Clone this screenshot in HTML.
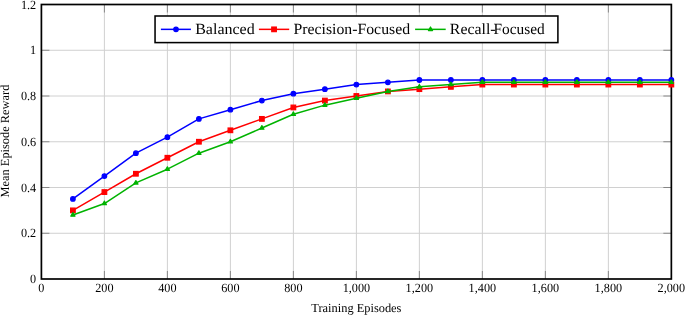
<!DOCTYPE html>
<html><head><meta charset="utf-8"><style>
html,body{margin:0;padding:0;background:#fff;}
svg{display:block;}
text{font-family:"Liberation Serif",serif;fill:#000;text-rendering:geometricPrecision;}
.txt{filter:grayscale(1);}
</style></head><body>
<svg width="685" height="315" viewBox="0 0 685 315">
<rect width="685" height="315" fill="#fff"/>
<line x1="104.40" y1="4.50" x2="104.40" y2="279.00" stroke="#d0d0d0" stroke-width="1.0"/>
<line x1="167.39" y1="4.50" x2="167.39" y2="279.00" stroke="#d0d0d0" stroke-width="1.0"/>
<line x1="230.39" y1="4.50" x2="230.39" y2="279.00" stroke="#d0d0d0" stroke-width="1.0"/>
<line x1="293.38" y1="4.50" x2="293.38" y2="279.00" stroke="#d0d0d0" stroke-width="1.0"/>
<line x1="356.38" y1="4.50" x2="356.38" y2="279.00" stroke="#d0d0d0" stroke-width="1.0"/>
<line x1="419.37" y1="4.50" x2="419.37" y2="279.00" stroke="#d0d0d0" stroke-width="1.0"/>
<line x1="482.37" y1="4.50" x2="482.37" y2="279.00" stroke="#d0d0d0" stroke-width="1.0"/>
<line x1="545.36" y1="4.50" x2="545.36" y2="279.00" stroke="#d0d0d0" stroke-width="1.0"/>
<line x1="608.36" y1="4.50" x2="608.36" y2="279.00" stroke="#d0d0d0" stroke-width="1.0"/>
<line x1="41.40" y1="233.25" x2="671.35" y2="233.25" stroke="#d0d0d0" stroke-width="1.0"/>
<line x1="41.40" y1="187.50" x2="671.35" y2="187.50" stroke="#d0d0d0" stroke-width="1.0"/>
<line x1="41.40" y1="141.75" x2="671.35" y2="141.75" stroke="#d0d0d0" stroke-width="1.0"/>
<line x1="41.40" y1="96.00" x2="671.35" y2="96.00" stroke="#d0d0d0" stroke-width="1.0"/>
<line x1="41.40" y1="50.25" x2="671.35" y2="50.25" stroke="#d0d0d0" stroke-width="1.0"/>
<line x1="104.40" y1="279.00" x2="104.40" y2="271.00" stroke="#666" stroke-width="0.7"/>
<line x1="104.40" y1="4.50" x2="104.40" y2="12.50" stroke="#666" stroke-width="0.7"/>
<line x1="167.39" y1="279.00" x2="167.39" y2="271.00" stroke="#666" stroke-width="0.7"/>
<line x1="167.39" y1="4.50" x2="167.39" y2="12.50" stroke="#666" stroke-width="0.7"/>
<line x1="230.39" y1="279.00" x2="230.39" y2="271.00" stroke="#666" stroke-width="0.7"/>
<line x1="230.39" y1="4.50" x2="230.39" y2="12.50" stroke="#666" stroke-width="0.7"/>
<line x1="293.38" y1="279.00" x2="293.38" y2="271.00" stroke="#666" stroke-width="0.7"/>
<line x1="293.38" y1="4.50" x2="293.38" y2="12.50" stroke="#666" stroke-width="0.7"/>
<line x1="356.38" y1="279.00" x2="356.38" y2="271.00" stroke="#666" stroke-width="0.7"/>
<line x1="356.38" y1="4.50" x2="356.38" y2="12.50" stroke="#666" stroke-width="0.7"/>
<line x1="419.37" y1="279.00" x2="419.37" y2="271.00" stroke="#666" stroke-width="0.7"/>
<line x1="419.37" y1="4.50" x2="419.37" y2="12.50" stroke="#666" stroke-width="0.7"/>
<line x1="482.37" y1="279.00" x2="482.37" y2="271.00" stroke="#666" stroke-width="0.7"/>
<line x1="482.37" y1="4.50" x2="482.37" y2="12.50" stroke="#666" stroke-width="0.7"/>
<line x1="545.36" y1="279.00" x2="545.36" y2="271.00" stroke="#666" stroke-width="0.7"/>
<line x1="545.36" y1="4.50" x2="545.36" y2="12.50" stroke="#666" stroke-width="0.7"/>
<line x1="608.36" y1="279.00" x2="608.36" y2="271.00" stroke="#666" stroke-width="0.7"/>
<line x1="608.36" y1="4.50" x2="608.36" y2="12.50" stroke="#666" stroke-width="0.7"/>
<line x1="41.40" y1="233.25" x2="49.40" y2="233.25" stroke="#666" stroke-width="0.7"/>
<line x1="671.35" y1="233.25" x2="663.35" y2="233.25" stroke="#666" stroke-width="0.7"/>
<line x1="41.40" y1="187.50" x2="49.40" y2="187.50" stroke="#666" stroke-width="0.7"/>
<line x1="671.35" y1="187.50" x2="663.35" y2="187.50" stroke="#666" stroke-width="0.7"/>
<line x1="41.40" y1="141.75" x2="49.40" y2="141.75" stroke="#666" stroke-width="0.7"/>
<line x1="671.35" y1="141.75" x2="663.35" y2="141.75" stroke="#666" stroke-width="0.7"/>
<line x1="41.40" y1="96.00" x2="49.40" y2="96.00" stroke="#666" stroke-width="0.7"/>
<line x1="671.35" y1="96.00" x2="663.35" y2="96.00" stroke="#666" stroke-width="0.7"/>
<line x1="41.40" y1="50.25" x2="49.40" y2="50.25" stroke="#666" stroke-width="0.7"/>
<line x1="671.35" y1="50.25" x2="663.35" y2="50.25" stroke="#666" stroke-width="0.7"/>
<rect x="41.40" y="4.50" width="629.95" height="274.50" fill="none" stroke="#000" stroke-width="1.7"/>
<polyline points="72.90,198.94 104.40,176.06 135.89,153.19 167.39,137.17 198.89,118.88 230.39,109.72 261.88,100.57 293.38,93.71 324.88,89.14 356.38,84.56 387.87,82.28 419.37,79.99 450.87,79.99 482.37,79.99 513.86,79.99 545.36,79.99 576.86,79.99 608.36,79.99 639.85,79.99 671.35,79.99" fill="none" stroke="#0000ff" stroke-width="1.5" stroke-linejoin="round"/>
<circle cx="72.90" cy="198.94" r="2.3" fill="#0000ff" stroke="#0000ff" stroke-width="1.20"/>
<circle cx="104.40" cy="176.06" r="2.3" fill="#0000ff" stroke="#0000ff" stroke-width="1.20"/>
<circle cx="135.89" cy="153.19" r="2.3" fill="#0000ff" stroke="#0000ff" stroke-width="1.20"/>
<circle cx="167.39" cy="137.17" r="2.3" fill="#0000ff" stroke="#0000ff" stroke-width="1.20"/>
<circle cx="198.89" cy="118.88" r="2.3" fill="#0000ff" stroke="#0000ff" stroke-width="1.20"/>
<circle cx="230.39" cy="109.72" r="2.3" fill="#0000ff" stroke="#0000ff" stroke-width="1.20"/>
<circle cx="261.88" cy="100.57" r="2.3" fill="#0000ff" stroke="#0000ff" stroke-width="1.20"/>
<circle cx="293.38" cy="93.71" r="2.3" fill="#0000ff" stroke="#0000ff" stroke-width="1.20"/>
<circle cx="324.88" cy="89.14" r="2.3" fill="#0000ff" stroke="#0000ff" stroke-width="1.20"/>
<circle cx="356.38" cy="84.56" r="2.3" fill="#0000ff" stroke="#0000ff" stroke-width="1.20"/>
<circle cx="387.87" cy="82.28" r="2.3" fill="#0000ff" stroke="#0000ff" stroke-width="1.20"/>
<circle cx="419.37" cy="79.99" r="2.3" fill="#0000ff" stroke="#0000ff" stroke-width="1.20"/>
<circle cx="450.87" cy="79.99" r="2.3" fill="#0000ff" stroke="#0000ff" stroke-width="1.20"/>
<circle cx="482.37" cy="79.99" r="2.3" fill="#0000ff" stroke="#0000ff" stroke-width="1.20"/>
<circle cx="513.86" cy="79.99" r="2.3" fill="#0000ff" stroke="#0000ff" stroke-width="1.20"/>
<circle cx="545.36" cy="79.99" r="2.3" fill="#0000ff" stroke="#0000ff" stroke-width="1.20"/>
<circle cx="576.86" cy="79.99" r="2.3" fill="#0000ff" stroke="#0000ff" stroke-width="1.20"/>
<circle cx="608.36" cy="79.99" r="2.3" fill="#0000ff" stroke="#0000ff" stroke-width="1.20"/>
<circle cx="639.85" cy="79.99" r="2.3" fill="#0000ff" stroke="#0000ff" stroke-width="1.20"/>
<circle cx="671.35" cy="79.99" r="2.3" fill="#0000ff" stroke="#0000ff" stroke-width="1.20"/>
<polyline points="72.90,210.38 104.40,192.07 135.89,173.77 167.39,157.76 198.89,141.75 230.39,130.31 261.88,118.88 293.38,107.44 324.88,100.57 356.38,96.00 387.87,91.43 419.37,89.14 450.87,86.85 482.37,84.56 513.86,84.56 545.36,84.56 576.86,84.56 608.36,84.56 639.85,84.56 671.35,84.56" fill="none" stroke="#ff0000" stroke-width="1.5" stroke-linejoin="round"/>
<rect x="70.60" y="208.07" width="4.6" height="4.6" fill="#ff0000" stroke="#ff0000" stroke-width="1.20"/>
<rect x="102.10" y="189.77" width="4.6" height="4.6" fill="#ff0000" stroke="#ff0000" stroke-width="1.20"/>
<rect x="133.59" y="171.47" width="4.6" height="4.6" fill="#ff0000" stroke="#ff0000" stroke-width="1.20"/>
<rect x="165.09" y="155.46" width="4.6" height="4.6" fill="#ff0000" stroke="#ff0000" stroke-width="1.20"/>
<rect x="196.59" y="139.45" width="4.6" height="4.6" fill="#ff0000" stroke="#ff0000" stroke-width="1.20"/>
<rect x="228.09" y="128.01" width="4.6" height="4.6" fill="#ff0000" stroke="#ff0000" stroke-width="1.20"/>
<rect x="259.58" y="116.58" width="4.6" height="4.6" fill="#ff0000" stroke="#ff0000" stroke-width="1.20"/>
<rect x="291.08" y="105.14" width="4.6" height="4.6" fill="#ff0000" stroke="#ff0000" stroke-width="1.20"/>
<rect x="322.58" y="98.27" width="4.6" height="4.6" fill="#ff0000" stroke="#ff0000" stroke-width="1.20"/>
<rect x="354.07" y="93.70" width="4.6" height="4.6" fill="#ff0000" stroke="#ff0000" stroke-width="1.20"/>
<rect x="385.57" y="89.13" width="4.6" height="4.6" fill="#ff0000" stroke="#ff0000" stroke-width="1.20"/>
<rect x="417.07" y="86.84" width="4.6" height="4.6" fill="#ff0000" stroke="#ff0000" stroke-width="1.20"/>
<rect x="448.57" y="84.55" width="4.6" height="4.6" fill="#ff0000" stroke="#ff0000" stroke-width="1.20"/>
<rect x="480.06" y="82.26" width="4.6" height="4.6" fill="#ff0000" stroke="#ff0000" stroke-width="1.20"/>
<rect x="511.56" y="82.26" width="4.6" height="4.6" fill="#ff0000" stroke="#ff0000" stroke-width="1.20"/>
<rect x="543.06" y="82.26" width="4.6" height="4.6" fill="#ff0000" stroke="#ff0000" stroke-width="1.20"/>
<rect x="574.56" y="82.26" width="4.6" height="4.6" fill="#ff0000" stroke="#ff0000" stroke-width="1.20"/>
<rect x="606.06" y="82.26" width="4.6" height="4.6" fill="#ff0000" stroke="#ff0000" stroke-width="1.20"/>
<rect x="637.55" y="82.26" width="4.6" height="4.6" fill="#ff0000" stroke="#ff0000" stroke-width="1.20"/>
<rect x="669.05" y="82.26" width="4.6" height="4.6" fill="#ff0000" stroke="#ff0000" stroke-width="1.20"/>
<polyline points="72.90,214.95 104.40,203.51 135.89,182.93 167.39,169.20 198.89,153.19 230.39,141.75 261.88,128.02 293.38,114.30 324.88,105.15 356.38,98.29 387.87,91.43 419.37,86.85 450.87,84.56 482.37,82.28 513.86,82.28 545.36,82.28 576.86,82.28 608.36,82.28 639.85,82.28 671.35,82.28" fill="none" stroke="#00b300" stroke-width="1.5" stroke-linejoin="round"/>
<polygon points="72.90,212.55 74.98,216.15 70.82,216.15" fill="#00b300" stroke="#00b300" stroke-width="1.20" stroke-linejoin="round"/>
<polygon points="104.40,201.11 106.47,204.71 102.32,204.71" fill="#00b300" stroke="#00b300" stroke-width="1.20" stroke-linejoin="round"/>
<polygon points="135.89,180.53 137.97,184.12 133.81,184.12" fill="#00b300" stroke="#00b300" stroke-width="1.20" stroke-linejoin="round"/>
<polygon points="167.39,166.80 169.47,170.40 165.31,170.40" fill="#00b300" stroke="#00b300" stroke-width="1.20" stroke-linejoin="round"/>
<polygon points="198.89,150.79 200.97,154.39 196.81,154.39" fill="#00b300" stroke="#00b300" stroke-width="1.20" stroke-linejoin="round"/>
<polygon points="230.39,139.35 232.46,142.95 228.31,142.95" fill="#00b300" stroke="#00b300" stroke-width="1.20" stroke-linejoin="round"/>
<polygon points="261.88,125.62 263.96,129.22 259.80,129.22" fill="#00b300" stroke="#00b300" stroke-width="1.20" stroke-linejoin="round"/>
<polygon points="293.38,111.90 295.46,115.50 291.30,115.50" fill="#00b300" stroke="#00b300" stroke-width="1.20" stroke-linejoin="round"/>
<polygon points="324.88,102.75 326.96,106.35 322.80,106.35" fill="#00b300" stroke="#00b300" stroke-width="1.20" stroke-linejoin="round"/>
<polygon points="356.38,95.89 358.45,99.49 354.30,99.49" fill="#00b300" stroke="#00b300" stroke-width="1.20" stroke-linejoin="round"/>
<polygon points="387.87,89.03 389.95,92.63 385.79,92.63" fill="#00b300" stroke="#00b300" stroke-width="1.20" stroke-linejoin="round"/>
<polygon points="419.37,84.45 421.45,88.05 417.29,88.05" fill="#00b300" stroke="#00b300" stroke-width="1.20" stroke-linejoin="round"/>
<polygon points="450.87,82.16 452.95,85.76 448.79,85.76" fill="#00b300" stroke="#00b300" stroke-width="1.20" stroke-linejoin="round"/>
<polygon points="482.37,79.88 484.44,83.48 480.29,83.48" fill="#00b300" stroke="#00b300" stroke-width="1.20" stroke-linejoin="round"/>
<polygon points="513.86,79.88 515.94,83.48 511.78,83.48" fill="#00b300" stroke="#00b300" stroke-width="1.20" stroke-linejoin="round"/>
<polygon points="545.36,79.88 547.44,83.48 543.28,83.48" fill="#00b300" stroke="#00b300" stroke-width="1.20" stroke-linejoin="round"/>
<polygon points="576.86,79.88 578.94,83.48 574.78,83.48" fill="#00b300" stroke="#00b300" stroke-width="1.20" stroke-linejoin="round"/>
<polygon points="608.36,79.88 610.43,83.48 606.28,83.48" fill="#00b300" stroke="#00b300" stroke-width="1.20" stroke-linejoin="round"/>
<polygon points="639.85,79.88 641.93,83.48 637.77,83.48" fill="#00b300" stroke="#00b300" stroke-width="1.20" stroke-linejoin="round"/>
<polygon points="671.35,79.88 673.43,83.48 669.27,83.48" fill="#00b300" stroke="#00b300" stroke-width="1.20" stroke-linejoin="round"/>
<rect x="155.05" y="16.0" width="402.85" height="26.60" fill="#fff" stroke="#000" stroke-width="1.55"/>
<line x1="160.9" y1="29.35" x2="190.9" y2="29.35" stroke="#0000ff" stroke-width="1.5"/>
<circle cx="176.00" cy="29.35" r="2.3" fill="#0000ff" stroke="#0000ff" stroke-width="1.20"/>
<line x1="258.9" y1="29.35" x2="289.2" y2="29.35" stroke="#ff0000" stroke-width="1.5"/>
<rect x="271.75" y="27.05" width="4.6" height="4.6" fill="#ff0000" stroke="#ff0000" stroke-width="1.20"/>
<line x1="415.1" y1="29.35" x2="445.7" y2="29.35" stroke="#00b300" stroke-width="1.5"/>
<polygon points="430.50,26.95 432.58,30.55 428.42,30.55" fill="#00b300" stroke="#00b300" stroke-width="1.20" stroke-linejoin="round"/>
<g class="txt"><text transform="translate(41.40,292.00) scale(0.97,1)" text-anchor="middle" style="font-size:12.6px">0</text>
<text transform="translate(104.40,292.00) scale(0.97,1)" text-anchor="middle" style="font-size:12.6px">200</text>
<text transform="translate(167.39,292.00) scale(0.97,1)" text-anchor="middle" style="font-size:12.6px">400</text>
<text transform="translate(230.39,292.00) scale(0.97,1)" text-anchor="middle" style="font-size:12.6px">600</text>
<text transform="translate(293.38,292.00) scale(0.97,1)" text-anchor="middle" style="font-size:12.6px">800</text>
<text transform="translate(356.38,292.00) scale(0.97,1)" text-anchor="middle" style="font-size:12.6px">1,000</text>
<text transform="translate(419.37,292.00) scale(0.97,1)" text-anchor="middle" style="font-size:12.6px">1,200</text>
<text transform="translate(482.37,292.00) scale(0.97,1)" text-anchor="middle" style="font-size:12.6px">1,400</text>
<text transform="translate(545.36,292.00) scale(0.97,1)" text-anchor="middle" style="font-size:12.6px">1,600</text>
<text transform="translate(608.36,292.00) scale(0.97,1)" text-anchor="middle" style="font-size:12.6px">1,800</text>
<text transform="translate(671.35,292.00) scale(0.97,1)" text-anchor="middle" style="font-size:12.6px">2,000</text>
<text transform="translate(36.20,283.05) scale(0.97,1)" text-anchor="end" style="font-size:12.6px">0</text>
<text transform="translate(36.20,237.30) scale(0.97,1)" text-anchor="end" style="font-size:12.6px">0.2</text>
<text transform="translate(36.20,191.55) scale(0.97,1)" text-anchor="end" style="font-size:12.6px">0.4</text>
<text transform="translate(36.20,145.80) scale(0.97,1)" text-anchor="end" style="font-size:12.6px">0.6</text>
<text transform="translate(36.20,100.05) scale(0.97,1)" text-anchor="end" style="font-size:12.6px">0.8</text>
<text transform="translate(36.20,54.30) scale(0.97,1)" text-anchor="end" style="font-size:12.6px">1</text>
<text transform="translate(36.20,8.55) scale(0.97,1)" text-anchor="end" style="font-size:12.6px">1.2</text>
<text transform="translate(356.38,312.00)" text-anchor="middle" style="font-size:12.4px">Training Episodes</text>
<text transform="translate(9.00,141.05) rotate(-90)" text-anchor="middle" style="font-size:12.4px">Mean Episode Reward</text>
<text transform="translate(195.15,33.50) scale(1.033,1)" style="font-size:15.5px">Balanced</text>
<text transform="translate(293.44,33.50) scale(1.0185,1)" style="font-size:15.5px">Precision-Focused</text>
<text transform="translate(449.84,33.50) scale(1.023,1)" style="font-size:15.5px">Recall-</text>
<text transform="translate(493.40,33.50) scale(0.993,1)" style="font-size:15.5px">Focused</text></g>
</svg>
</body></html>
